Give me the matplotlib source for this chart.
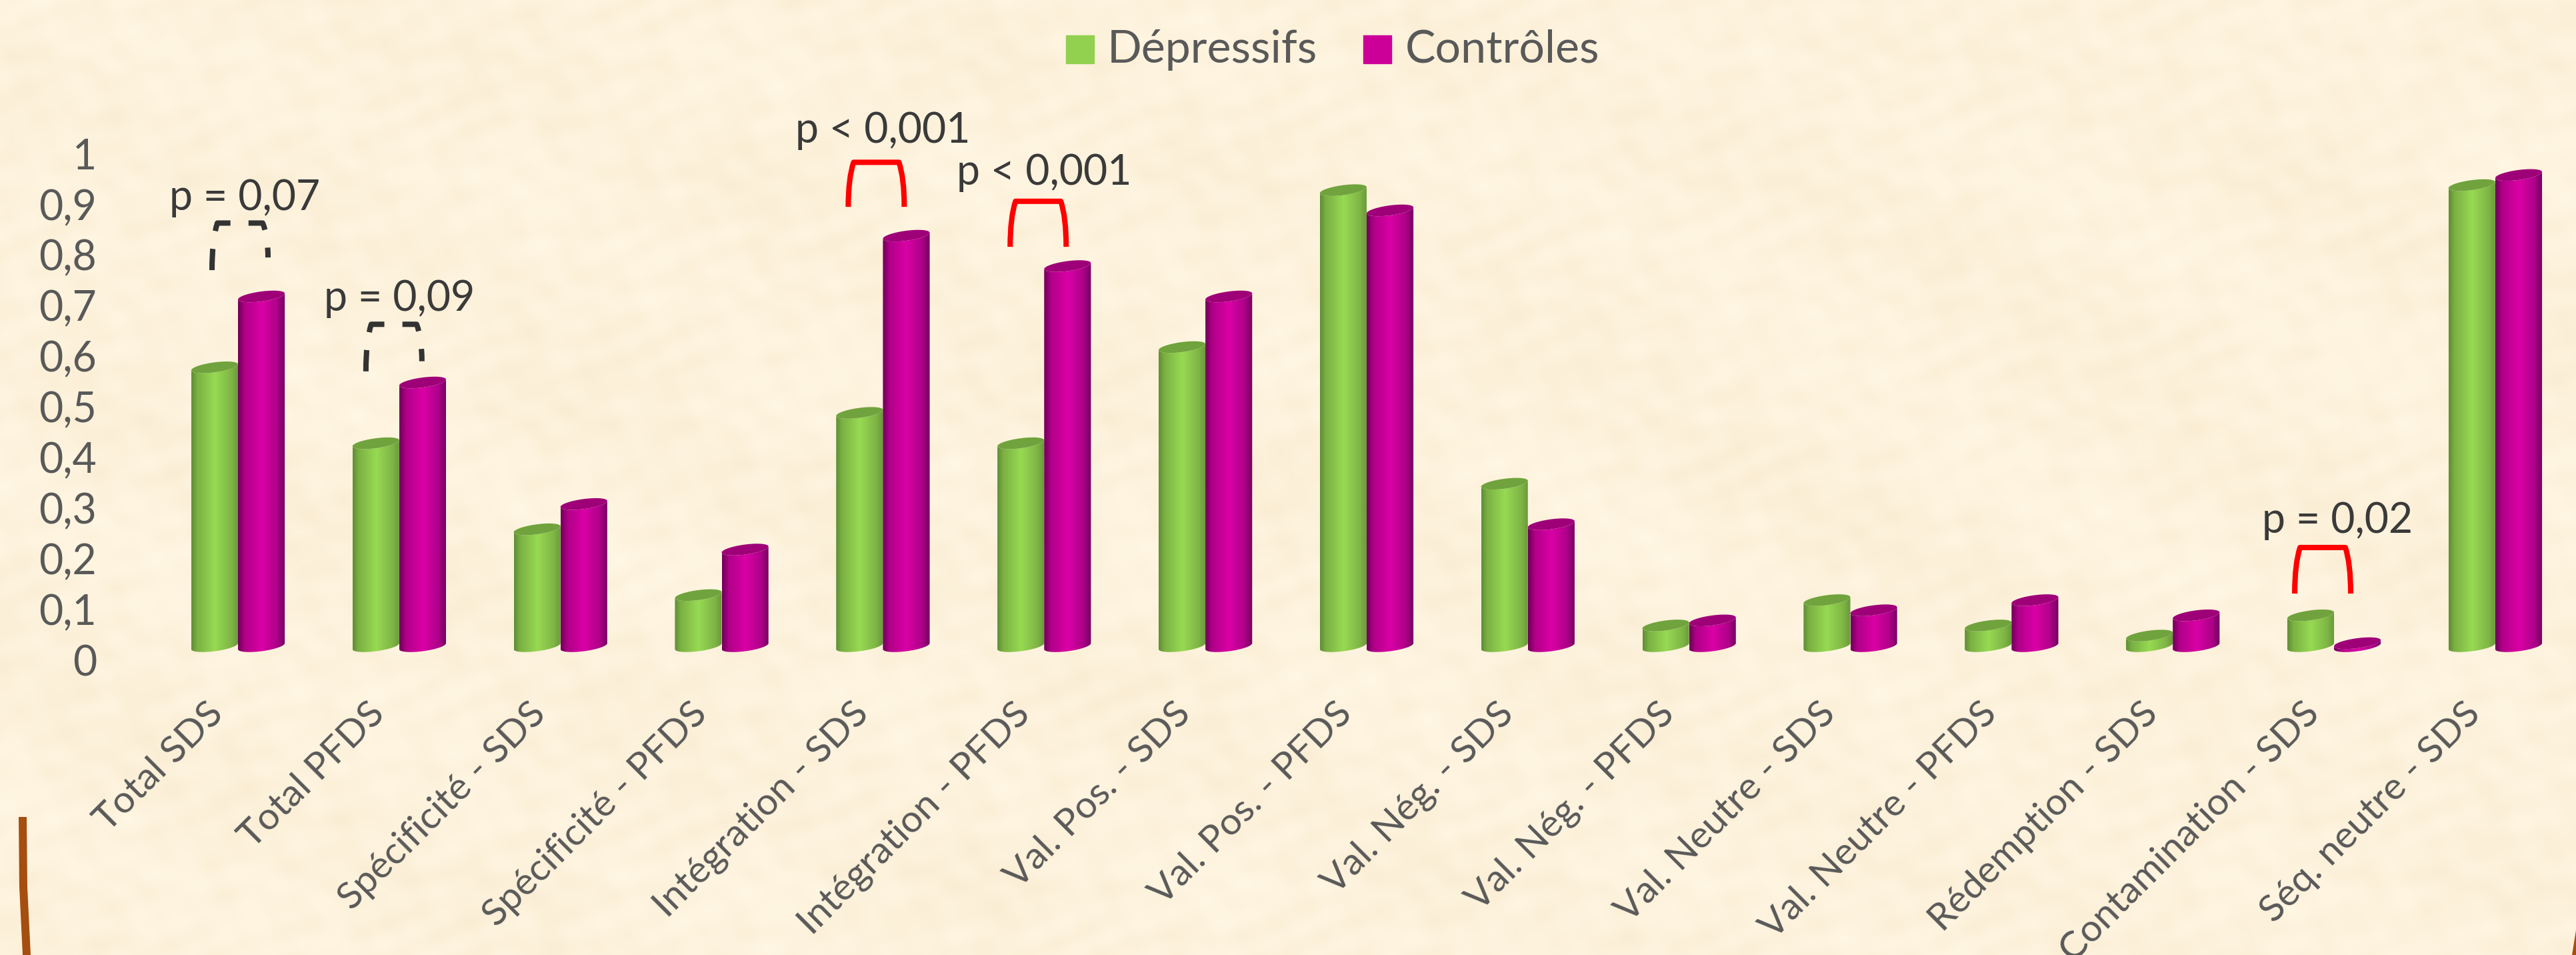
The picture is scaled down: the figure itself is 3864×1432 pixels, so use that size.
"""Dépressifs / Contrôles : barres cylindriques façon Excel 3D sur fond parchemin."""
import numpy as np
import matplotlib
matplotlib.use("Agg")
import matplotlib.pyplot as plt
from matplotlib.path import Path
from matplotlib.patches import PathPatch, Polygon, Rectangle

plt.rcParams["font.family"] = ["Lato", "DejaVu Sans"]
plt.rcParams["lines.scale_dashes"] = False

categories = [
    "Total SDS", "Total PFDS", "Spécificité - SDS", "Spécificité - PFDS",
    "Intégration - SDS", "Intégration - PFDS", "Val. Pos. - SDS", "Val. Pos. - PFDS",
    "Val. Nég. - SDS", "Val. Nég. - PFDS", "Val. Neutre - SDS", "Val. Neutre - PFDS",
    "Rédemption - SDS", "Contamination - SDS", "Séq. neutre - SDS",
]
depressifs = [0.58, 0.43, 0.26, 0.13, 0.49, 0.43, 0.62, 0.93, 0.35, 0.07, 0.12, 0.07, 0.05, 0.09, 0.94]
controles = [0.72, 0.55, 0.31, 0.22, 0.84, 0.78, 0.72, 0.89, 0.27, 0.08, 0.10, 0.12, 0.09, 0.035, 0.96]
y_ticks = [0, 0.1, 0.2, 0.3, 0.4, 0.5, 0.6, 0.7, 0.8, 0.9, 1]
y_tick_labels = ["0", "0,1", "0,2", "0,3", "0,4", "0,5", "0,6", "0,7", "0,8", "0,9", "1"]

p_groups = [0, 1, 4, 5, 13]
p_texts = ["p = 0,07", "p = 0,09", "p < 0,001", "p < 0,001", "p = 0,02"]
p_dashed = [True, True, False, False, False]
p_text_y = [0.915, 0.715, 1.047, 0.965, 0.277]
p_low_left = [0.772, 0.572, 0.897, 0.818, 0.133]
p_low_right = [0.797, 0.592, 0.897, 0.818, 0.133]
p_high = [0.865, 0.665, 0.985, 0.908, 0.224]
p_text_dx = [10, 0, 0, 0, 5]            # px, from group centre
p_bracket_dx = [3, -8, -10, -9, -17]    # px, from group centre

W, H, DPI = 3864, 1432, 100
X0, PITCH = 357, 241.85     # px of first group centre, px between groups
Y0, UNIT = 991, 759         # px of the value 0, px per unit on the axis
BAR_W = 0.29
BASE = 0.029                # the 3D floor sits slightly above the value 0

GREEN = [(0.0, "#5f8f35"), (0.12, "#7bb043"), (0.5, "#97da53"), (0.85, "#7fb545"), (1.0, "#69993a")]
MAGENTA = [(0.0, "#6f0058"), (0.14, "#b00088"), (0.5, "#da00a6"), (0.82, "#b0008a"), (1.0, "#750060")]
GREEN_TOP = "#70a33d"
MAGENTA_TOP = "#9e0078"
FRAME = "#a64d10"


def hex_rgb(c):
    return np.array(matplotlib.colors.to_rgb(c))


def gradient(stops):
    pos = np.linspace(0, 1, 64)
    xs = [s[0] for s in stops]
    cols = np.array([hex_rgb(s[1]) for s in stops])
    return np.stack([np.interp(pos, xs, cols[:, k]) for k in range(3)], axis=1)[None, :, :]


def ellipse_pts(xc, yc, half_w, t):
    # tilted a little: right side higher than the left
    b = 7.5 / UNIT
    k = 4.5 / UNIT
    return np.c_[xc + half_w * np.cos(t), yc + b * np.sin(t) + k * np.cos(t)]


def px(xp, yp):
    """Figure pixel (from top left) to data coordinates, for the decorations."""
    return (xp - X0) / PITCH, (Y0 - yp) / UNIT


fig = plt.figure(figsize=(W / DPI, H / DPI), dpi=DPI)
ax = fig.add_axes([0, 0, 1, 1])
xlim = (-X0 / PITCH, (W - X0) / PITCH)
ylim = ((Y0 - H) / UNIT, Y0 / UNIT)

# parchment background, smooth mottling from a few sines
yy, xx = np.mgrid[0:H // 4, 0:W // 4]
mott = (np.sin(xx / 9.0 + np.sin(yy / 7.0) * 2.2) * np.sin(yy / 5.5 + np.sin(xx / 13.0) * 2.0)
        + 0.6 * np.sin(xx / 3.1 + yy / 6.3) * np.sin(yy / 2.7 - xx / 8.9)
        + 0.5 * np.sin(xx / 31.0 - yy / 17.0))
paper = hex_rgb("#fdf2dc")[None, None, :] + mott[:, :, None] * np.array([0.005, 0.009, 0.015])
ax.imshow(np.clip(paper, 0, 1), extent=(*xlim, *ylim), aspect="auto", zorder=0, interpolation="bicubic")

# cylinders
x = np.arange(len(categories))
series = [
    (x - BAR_W / 2, depressifs, GREEN, GREEN_TOP),
    (x + BAR_W / 2, controles, MAGENTA, MAGENTA_TOP),
]
t_low = np.linspace(np.pi, 2 * np.pi, 40)
t_full = np.linspace(0, 2 * np.pi, 60)
for s, (pos, vals, stops, top_col) in enumerate(series):
    bars = ax.bar(pos, np.array(vals) - BASE, bottom=BASE, width=BAR_W, color="none", linewidth=0, zorder=3 + s)
    img = gradient(stops)
    for bar, xc, v in zip(bars, pos, vals):
        half = bar.get_width() / 2
        low = ellipse_pts(xc, BASE, half, t_low)
        up = ellipse_pts(xc, v, half, t_low[::-1])
        body = Polygon(np.r_[low, up], closed=True, facecolor="none", edgecolor="none")
        ax.add_patch(body)
        im = ax.imshow(img, extent=(xc - half, xc + half, BASE - 0.03, v + 0.02),
                       aspect="auto", zorder=3 + s, interpolation="bilinear")
        im.set_clip_path(body)
        ax.add_patch(Polygon(ellipse_pts(xc, v, half, t_full), closed=True, facecolor=top_col,
                             edgecolor="none", zorder=3 + s))

ax.set_xlim(*xlim)
ax.set_ylim(*ylim)
ax.axis("off")

# axis labels are plain text since the axes are full-bleed
for tick, lab in zip(y_ticks, y_tick_labels):
    ax.annotate(lab, xy=(-212 / PITCH, tick), xytext=(0, -4), textcoords="offset pixels",
                ha="right", va="center", fontsize=45, color="#595959", zorder=6)
for i, lab in enumerate(categories):
    ax.annotate(lab, xy=(i, 0), xytext=(-19, -82), textcoords="offset pixels",
                ha="right", va="baseline", rotation=45, rotation_mode="anchor",
                fontsize=41, color="#595959", zorder=6, annotation_clip=False)

# p-value brackets
for g, txt, ty, ll, lr, hi, dashed, tdx, bdx in zip(p_groups, p_texts, p_text_y, p_low_left, p_low_right,
                                                    p_high, p_dashed, p_text_dx, p_bracket_dx):
    col = "#333333" if dashed else "#ff0000"
    xc = g + bdx / PITCH
    half_b = 42 / PITCH
    inset = 8 / PITCH
    verts = [(xc - half_b, ll), (xc - half_b, hi - 0.35 * (hi - ll)), (xc - half_b + inset, hi),
             (xc + half_b - inset, hi), (xc + half_b, hi - 0.35 * (hi - lr)), (xc + half_b, lr)]
    codes = [Path.MOVETO, Path.CURVE3, Path.CURVE3, Path.LINETO, Path.CURVE3, Path.CURVE3]
    ls = (0, (23, 19.5)) if dashed else "-"
    ax.add_patch(PathPatch(Path(verts, codes), facecolor="none", edgecolor=col, linewidth=5.8,
                           linestyle=ls, capstyle="butt", joinstyle="round", zorder=7))
    ax.text(g + tdx / PITCH, ty, txt, ha="center", va="center", fontsize=45, color="#3a3a3a", zorder=7)

# legend
fig.add_artist(Rectangle((1599 / W, 1 - 95 / H), 42 / W, 42 / H, transform=fig.transFigure, color="#92d050"))
fig.text(1661 / W, 1 - 75 / H, "Dépressifs", ha="left", va="center", fontsize=49, color="#595959")
fig.add_artist(Rectangle((2045 / W, 1 - 95 / H), 42 / W, 42 / H, transform=fig.transFigure, color="#cc0099"))
fig.text(2108 / W, 1 - 75 / H, "Contrôles", ha="left", va="center", fontsize=49, color="#595959")

# corners of the slide frame
ax.add_patch(Polygon([px(28, 1225), px(40, 1225), px(41, 1330), px(46, 1432), px(34, 1432), px(29, 1330)],
                     closed=True, facecolor=FRAME, edgecolor="none", zorder=2))
ax.add_patch(Polygon([px(3864, 1395), px(3864, 1432), px(3858, 1432)],
                     closed=True, facecolor=FRAME, edgecolor="none", zorder=2))

fig.savefig("out.png", dpi=DPI)
